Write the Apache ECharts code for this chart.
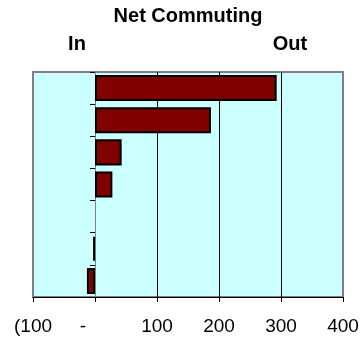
<!DOCTYPE html>
<html>
<head>
<meta charset="utf-8">
<script src="https://cdn.jsdelivr.net/npm/echarts@6/dist/echarts.min.js"></script>
<style>
html,body{margin:0;padding:0;background:#fff;}
#main{width:363px;height:345px;}
</style>
</head>
<body>
<div id="main"></div>
<script>
// rows from top to bottom (category names are not shown on the chart)
var places = ['1', '2', '3', '4', '5', '6', '7'];
var netCommuting = [293, 187, 43, 28, 0, -3, -13];
var xTicks = [-100, 0, 100, 200, 300, 400];
var titleText = 'Net Commuting';
var inText = 'In';
var outText = 'Out';

var font = '"Liberation Sans", Arial, sans-serif';

function tickLabel(v){
	if(v < 0){
		return '(' + Math.abs(v);
	}else if(v == 0){
		return '{z|-}';
	}
	return '' + v;
}

// a zero bar should not leave its outline behind
var barData = [];
for(var i = 0; i < netCommuting.length; i++){
	var item = {value: netCommuting[i]};
	if(netCommuting[i] == 0){
		item.itemStyle = {borderWidth: 0};
	}
	barData.push(item);
}

var myChart = echarts.init(document.getElementById('main'));
var option = {
	animation: false,
	backgroundColor: '#fff',
	graphic: [
		{type: 'text', style: {x: 188, y: 16, text: titleText, align: 'center', verticalAlign: 'middle', font: 'bold 20px ' + font, fill: '#000'}},
		{type: 'text', style: {x: 77, y: 44, text: inText, align: 'center', verticalAlign: 'middle', font: 'bold 20px ' + font, fill: '#000'}},
		{type: 'text', style: {x: 290, y: 44, text: outText, align: 'center', verticalAlign: 'middle', font: 'bold 20px ' + font, fill: '#000'}}
	],
	grid: {
		left: 33, right: 20, top: 72, bottom: 48,
		show: true,
		backgroundColor: '#ccffff',
		borderColor: '#808080',
		borderWidth: 2
	},
	xAxis: {
		type: 'value',
		min: xTicks[0],
		max: xTicks[xTicks.length - 1],
		interval: 100,
		axisLine: {show: true, onZero: false, lineStyle: {color: '#000', width: 1}},
		axisTick: {show: true, length: 5, lineStyle: {color: '#000'}},
		splitLine: {show: true, showMinLine: false, showMaxLine: false, lineStyle: {color: '#000', width: 1}},
		axisLabel: {
			margin: 20,
			fontFamily: font,
			fontSize: 19,
			color: '#000',
			formatter: tickLabel,
			rich: {z: {fontFamily: font, fontSize: 19, color: '#000', padding: [0, 24, 0, 0]}}
		}
	},
	yAxis: {
		type: 'category',
		inverse: true,
		data: places,
		axisLine: {show: true, onZero: true, lineStyle: {color: '#808080', width: 1}},
		axisTick: {show: true, length: 5, alignWithLabel: false, lineStyle: {color: '#000'}},
		axisLabel: {show: false},
		splitLine: {show: false}
	},
	series: [{
		type: 'bar',
		data: barData,
		barCategoryGap: '19%',
		itemStyle: {color: '#800000', borderColor: '#000', borderWidth: 2}
	}]
};
myChart.setOption(option);
</script>
</body>
</html>
